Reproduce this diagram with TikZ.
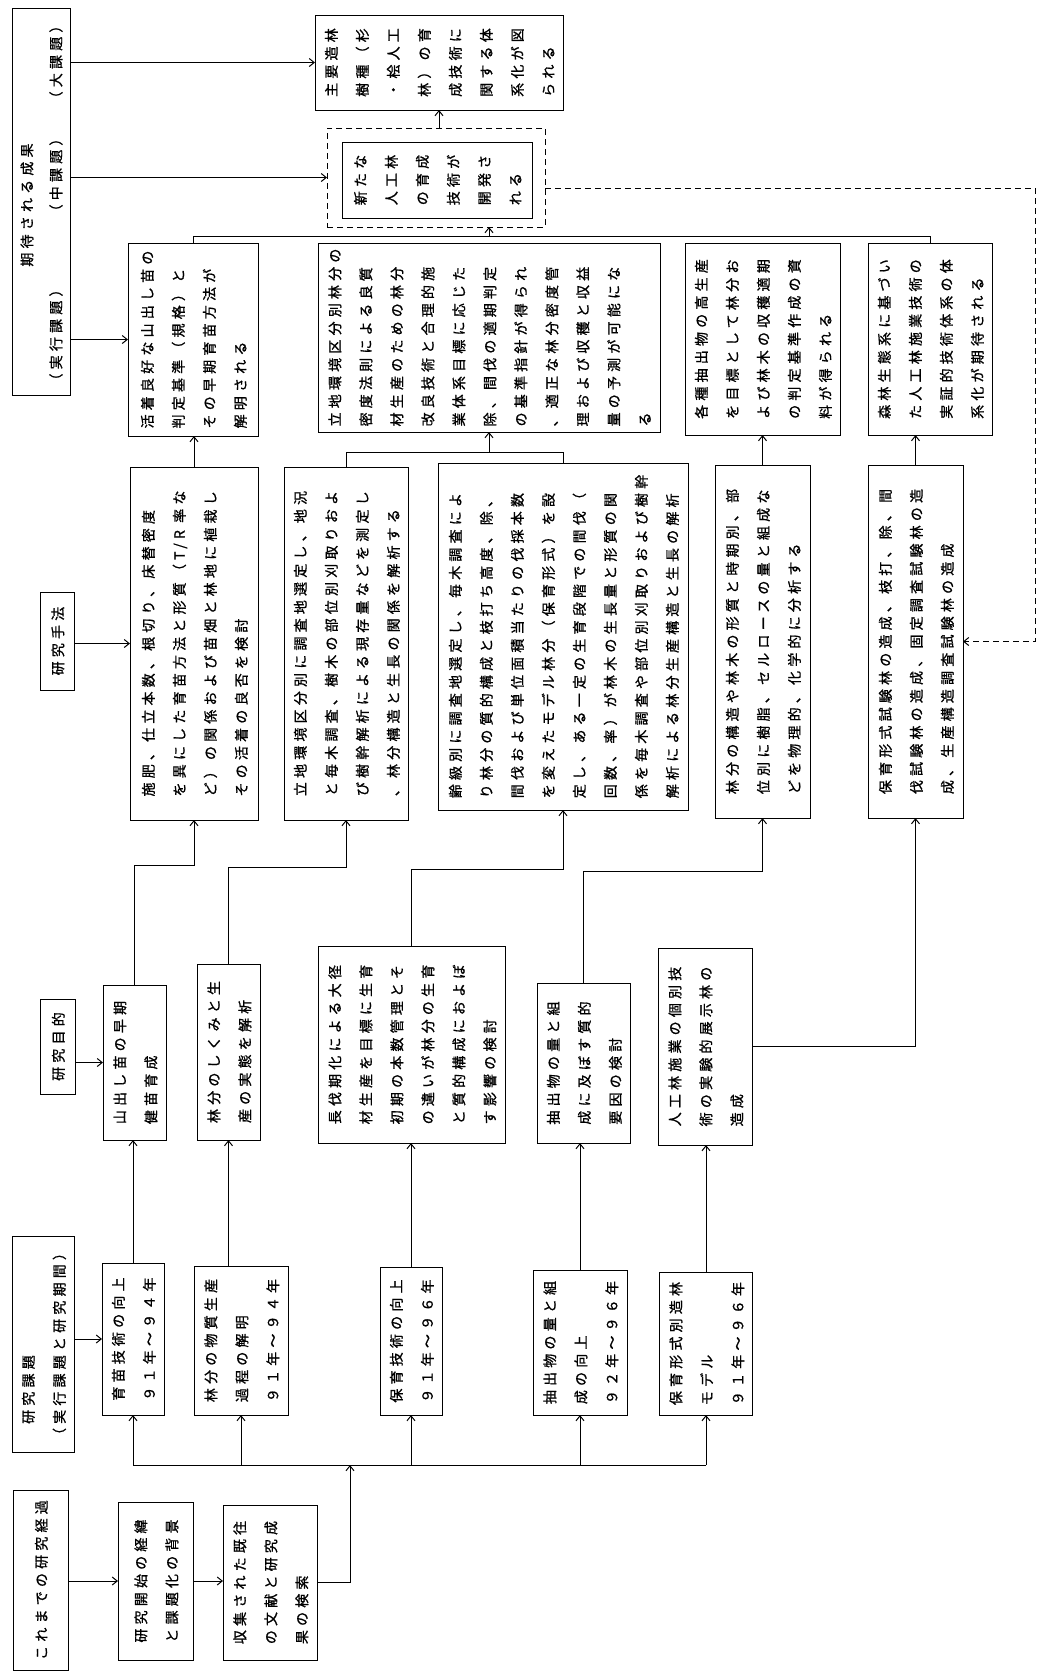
\documentclass[tikz,border=0pt]{standalone}
\usepackage{fontspec}
\setmainfont{Noto Sans CJK JP}[LetterSpace=30,FakeBold=1]
\usepackage{graphicx}
\usetikzlibrary{arrows.meta,calc}
\newcommand\vt[1]{\rotatebox{90}{\begin{tabular}{@{}l@{}}#1\end{tabular}}}
\newcommand\jpf{\fontsize{14}{31}\selectfont}
\newcommand\jbox[7][]{\node[bx,#1,minimum width={(#5-#3)*1pt},minimum height={(#6-#4)*1pt}] (#2) at ({(#3+#5)/2},{-(#4+#6)/2}) {\vt{#7}};}
\begin{document}
\begin{tikzpicture}[x=1pt,y=1pt,line width=1pt,
  >={Straight Barb[length=5pt,width=8pt]},
  bx/.style={draw,rectangle,inner sep=0pt,outer sep=0pt,line width=1pt,font=\jpf},
  ar/.style={->,line width=1pt},
  lbl/.style={font=\jpf,rotate=90,inner sep=0pt}]
\useasboundingbox (0,0) rectangle (1040,-1674);

% ---- header column
\jbox{H1}{12}{8}{70}{395}{}
\node[lbl] (h1a) at (27,-205) {期待される成果};
\node[lbl] (h1b) at (56,-335) {（実行課題）};
\node[lbl] (h1c) at (56,-175) {（中課題）};
\node[lbl] (h1d) at (56,-62) {（大課題）};
\jbox{H3}{40}{592}{74}{690}{研究手法}
\jbox{H4}{40}{999}{75}{1094}{研究目的}
\jbox{H5}{13}{1236}{73}{1452}{　研究課題\\（実行課題と研究期間）}
\jbox{H6}{13}{1490}{68}{1670}{これまでの研究経過}

% ---- results
\jbox{TB}{315}{15}{563}{110}{主要造林\\樹種（杉\\・桧人工\\林）の育\\成技術に\\関する体\\系化が図\\られる}
\jbox[dashed,dash pattern=on 6pt off 4pt]{DBo}{327}{128}{545}{227}{}
\jbox{DBi}{342}{142}{532}{218}{新たな\\人工林\\の育成\\技術が\\開発さ\\れる}
\jbox{R1}{128}{243}{258}{436}{活着良好な山出し苗の\\判定基準（規格）と\\その早期育苗方法が\\解明される}
\jbox{R2}{318}{243}{660}{432}{立地環境区分別林分の\\密度法則による良質\\材生産のための林分\\改良技術と合理的施\\業体系目標に応じた\\除、間伐の適期判定\\の基準指針が得られ\\、適正な林分密度管\\理および収穫と収益\\量の予測が可能にな\\る}
\jbox{R3}{685}{243}{840}{435}{各種抽出物の高生産\\を目標として林分お\\よび林木の収穫適期\\の判定基準作成の資\\料が得られる}
\jbox{R4}{870}{243}{990}{435}{森林生態系に基づい\\た人工林施業技術の\\実証的技術体系の体\\系化が期待される}

% ---- methods
\jbox{M1}{130}{467}{258}{820}{施肥、仕立本数、根切り、床替密度\\を異にした育苗方法と形質（T/R 率な\\ど）の関係および苗畑と林地に植栽し\\その活着の良否を検討}
\jbox{M2}{284}{467}{408}{820}{立地環境区分別に調査地選定し、地況\\と毎木調査、樹木の部位別刈取りおよ\\び樹幹解析による現存量などを測定し\\、林分構造と生長の関係を解析する}
\jbox{M3}{438}{463}{688}{810}{齢級別に調査地選定し、毎木調査によ\\り林分の質的構成と枝打ち高度、除、\\間伐および単位面積当たりの伐採本数\\を変えたモデル林分（保育形式）を設\\定し、ある一定の生育段階での間伐（\\回数、率）が林木の生長量と形質の関\\係を毎木調査や部位別刈取りおよび樹幹\\解析による林分生産構造と生長の解析}
\jbox{M4}{715}{465}{810}{818}{林分の構造や林木の形質と時期別、部\\位別に樹脂、セルロースの量と組成な\\どを物理的、化学的に分析する}
\jbox{M5}{868}{465}{963}{818}{保育形式試験林の造成、枝打、除、間\\伐試験林の造成、固定調査試験林の造\\成、生産構造調査試験林の造成}

% ---- objectives
\jbox{O1}{103}{985}{166}{1140}{山出し苗の早期\\健苗育成}
\jbox{O2}{197}{964}{260}{1140}{林分のしくみと生\\産の実態を解析}
\jbox{O3}{318}{946}{505}{1143}{長伐期化による大径\\材生産を目標に生育\\初期の本数管理とそ\\の違いが林分の生育\\と質的構成におよぼ\\す影響の検討}
\jbox{O4}{537}{983}{630}{1143}{抽出物の量と組\\成に及ぼす質的\\要因の検討}
\jbox{O5}{658}{948}{752}{1145}{人工林施業の個別技\\術の実験的展示林の\\造成}

% ---- tasks
\jbox{T1}{103}{1263}{163}{1415}{育苗技術の向上\\９１年～９４年}
\jbox{T2}{194}{1266}{288}{1415}{林分の物質生産\\過程の解明\\９１年～９４年}
\jbox{T3}{380}{1267}{442}{1415}{保育技術の向上\\９１年～９６年}
\jbox{T4}{533}{1270}{627}{1415}{抽出物の量と組\\成の向上\\９２年～９６年}
\jbox{T5}{660}{1272}{752}{1415}{保育形式別造林\\モデル\\９１年～９６年}

% ---- background
\jbox{K1}{118}{1502}{193}{1660}{研究開始の経緯\\と課題化の背景}
\jbox{K2}{223}{1505}{317}{1660}{収集された既往\\の文献と研究成\\果の検索}

% ---- helper coordinates
\coordinate (bus) at (0,-1465);
\coordinate (bj) at (350,-1465);
\coordinate (r1) at (0,-865);
\coordinate (r2) at (0,-867);
\coordinate (r3) at (0,-869);
\coordinate (r4) at (0,-871);
\coordinate (j) at (0,-452);
\coordinate (k) at (0,-236);
\coordinate (dy) at (0,-188);
\coordinate (dr) at (1035,0);

% ---- header arrows
\draw[ar] (H1.east |- TB.west) -- (TB.west);
\draw[ar] (H1.east |- DBo.west) -- (DBo.west);
\draw[ar] (H1.east |- R1.west) -- (R1.west);
\draw[ar] (H3.east |- M1.west) -- (M1.west);
\draw[ar] (H4.east |- O1.west) -- (O1.west);
\draw[ar] (H5.east |- T1.west) -- (T1.west);
\draw[ar] (H6.east |- K1.west) -- (K1.west);
\draw[ar] (K1.east) -- (K1.east -| K2.west);
\draw[ar] (K2.east) -- (K2.east -| bj) -- (bj);

% ---- bus to tasks
\draw (T1.south |- bus) -- (T5.south |- bus);
\foreach \t in {T1,T2,T3,T4,T5}{\draw[ar] (\t.south |- bus) -- (\t.south);}

% ---- tasks to objectives
\draw[ar] (T1.north) -- (T1.north |- O1.south);
\draw[ar] (T2.north -| O2.south) -- (O2.south);
\draw[ar] (T3.north) -- (T3.north |- O3.south);
\draw[ar] (T4.north) -- (T4.north |- O4.south);
\draw[ar] (T5.north) -- (T5.north |- O5.south);

% ---- objectives to methods
\draw[ar] (O1.north) |- (M1.south |- r1) -- (M1.south);
\draw[ar] (O2.north) |- (M2.south |- r2) -- (M2.south);
\draw[ar] (O3.north) |- (M3.south |- r3) -- (M3.south);
\draw[ar] (O4.north) |- (M4.south |- r4) -- (M4.south);
\draw[ar] (O5.east) -| (M5.south);

% ---- methods to results
\draw[ar] (M1.north) -- (M1.north |- R1.south);
\draw (M2.north) |- (M3.north |- j) -- (M3.north);
\draw[ar] (R2.south |- j) -- (R2.south);
\draw[ar] (M4.north) -- (M4.north |- R3.south);
\draw[ar] (M5.north) -- (M5.north |- R4.south);

% ---- results to middle / top
\draw (R1.north) |- (R4.north |- k) -- (R4.north);
\draw[ar] (R2.north |- k) -- (R2.north |- DBo.south);
\draw[ar] (TB.south |- DBo.north) -- (TB.south);
\draw[ar,dash pattern=on 6pt off 4pt] (DBo.east |- dy) -- (dr |- dy) -- (dr |- M5.east) -- (M5.east);
\end{tikzpicture}
\end{document}
